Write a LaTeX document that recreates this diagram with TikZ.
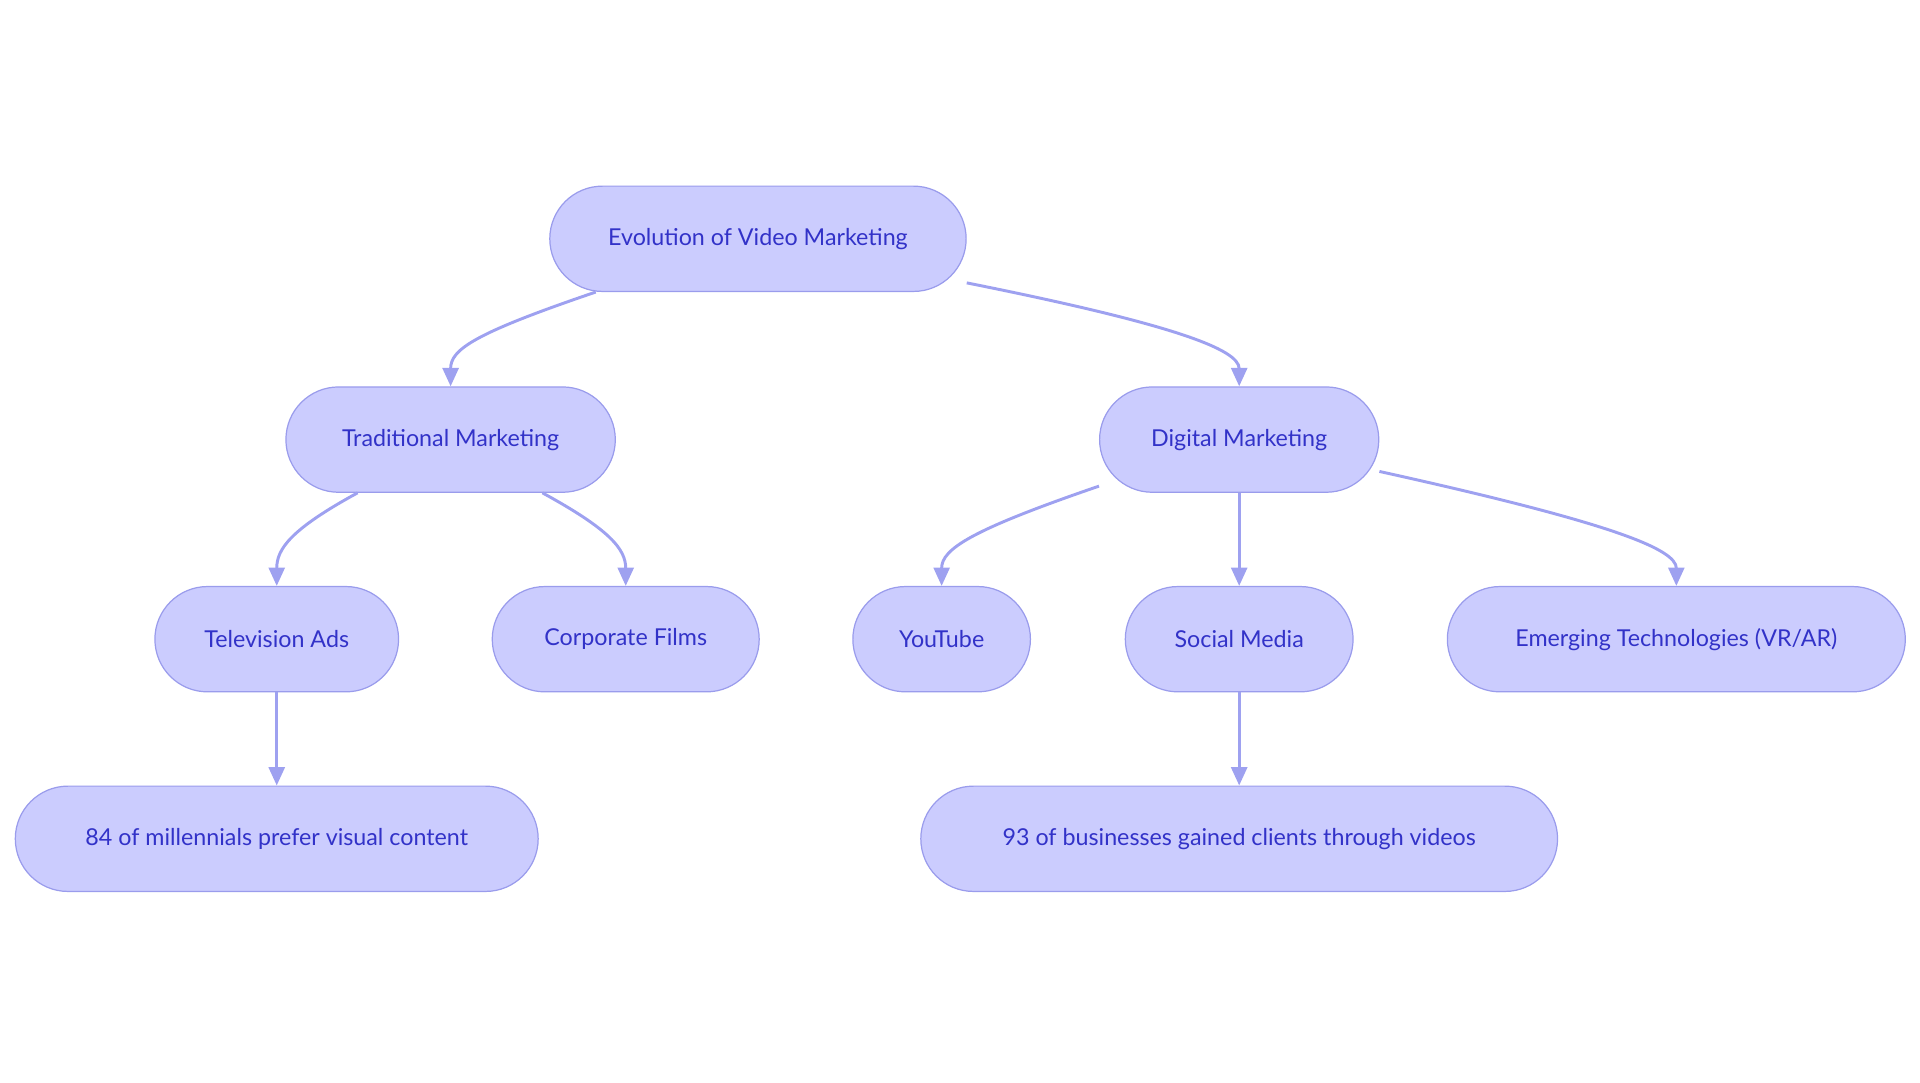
\documentclass[tikz,border=0pt]{standalone}
\usepackage{fontspec}
\setmainfont{Lato}
\usetikzlibrary{arrows.meta}
\definecolor{nfill}{HTML}{CBCCFE}
\definecolor{nline}{HTML}{9A9CEC}
\definecolor{ntext}{HTML}{3232C8}
\definecolor{eline}{HTML}{9EA1F0}
\begin{document}
\begin{tikzpicture}[x=1pt,y=-1pt,
  box/.style={draw=nline,fill=nfill,line width=1pt,rounded corners=43pt,minimum height=86pt,inner sep=0pt,text=ntext,font=\fontsize{19}{22}\selectfont},
  edge/.style={draw=eline,line width=2.4pt,-{Triangle[length=15pt,width=13pt]}}]
\useasboundingbox (0,0) rectangle (1568,884);
\node[box,minimum width=340pt] (root) at (619,195) {Evolution of Video Marketing};
\node[box,minimum width=269pt] (trad) at (368,359) {Traditional Marketing};
\node[box,minimum width=228pt] (dig) at (1012,359) {Digital Marketing};
\node[box,minimum width=199pt] (tv) at (226,522) {Television Ads};
\node[box,minimum width=218pt] (corp) at (511,522) {Corporate Films};
\node[box,minimum width=145pt] (yt) at (769,522) {YouTube};
\node[box,minimum width=186pt] (sm) at (1012,522) {Social Media};
\node[box,minimum width=374pt] (em) at (1369,522) {Emerging Technologies (VR/AR)};
\node[box,minimum width=427pt] (s84) at (226,685) {84 of millennials prefer visual content};
\node[box,minimum width=520pt] (s93) at (1012,685) {93 of businesses gained clients through videos};
\draw[edge] ([xshift=38pt]root.south west) .. controls +(-100,34) and +(0,-30) .. (trad.north);
\draw[edge] ([yshift=-36pt]root.east) .. controls +(170,34) and +(0,-30) .. (dig.north);
\draw[edge] ([xshift=59pt]trad.south west) .. controls +(-55,30) and +(0,-30) .. (tv.north);
\draw[edge] ([xshift=-60pt]trad.south east) .. controls +(55,30) and +(0,-30) .. (corp.north);
\draw[edge] ([yshift=-38pt]dig.west) .. controls +(-105,36) and +(0,-30) .. (yt.north);
\draw[edge] ([yshift=-26pt]dig.east) .. controls +(190,42) and +(0,-30) .. (em.north);
\draw[edge] (dig) -- (sm);
\draw[edge] (tv) -- (s84);
\draw[edge] (sm) -- (s93);
\end{tikzpicture}
\end{document}
